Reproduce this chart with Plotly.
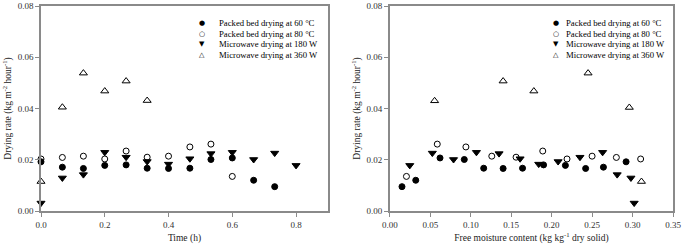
import plotly.graph_objects as go

# ---- Data: left panel (time, h) ----
time_60 = [0.0, 0.067, 0.133, 0.2, 0.267, 0.333, 0.4, 0.467, 0.533, 0.6, 0.667, 0.733]
rate_60 = [0.0192, 0.0171, 0.0166, 0.0178, 0.0180, 0.0167, 0.0166, 0.0167, 0.0201, 0.0207, 0.0120, 0.0095]
time_80 = [0.0, 0.067, 0.133, 0.2, 0.267, 0.333, 0.4, 0.467, 0.533, 0.6]
rate_80 = [0.0203, 0.0209, 0.0214, 0.0203, 0.0234, 0.0210, 0.0214, 0.0250, 0.0261, 0.0135]
time_180 = [0.0, 0.067, 0.133, 0.2, 0.267, 0.333, 0.4, 0.467, 0.533, 0.6, 0.667, 0.733, 0.8]
rate_180 = [0.0031, 0.0129, 0.0142, 0.0229, 0.0210, 0.0193, 0.0183, 0.0204, 0.0224, 0.0229, 0.0201, 0.0226, 0.0178]
time_360 = [0.0, 0.067, 0.133, 0.2, 0.267, 0.333]
rate_360 = [0.0115, 0.0405, 0.0538, 0.0468, 0.0507, 0.0431]

# ---- Data: right panel (free moisture content) ----
mc_60 = [0.015, 0.032, 0.062, 0.092, 0.116, 0.140, 0.164, 0.190, 0.217, 0.242, 0.264, 0.292]
mrate_60 = [0.0095, 0.0120, 0.0207, 0.0201, 0.0167, 0.0166, 0.0167, 0.0180, 0.0178, 0.0166, 0.0171, 0.0192]
mc_80 = [0.0205, 0.0586, 0.094, 0.126, 0.156, 0.189, 0.219, 0.250, 0.280, 0.310]
mrate_80 = [0.0135, 0.0261, 0.0250, 0.0214, 0.0210, 0.0234, 0.0203, 0.0214, 0.0209, 0.0203]
mc_180 = [0.0246, 0.0525, 0.0787, 0.107, 0.135, 0.161, 0.184, 0.208, 0.235, 0.263, 0.281, 0.298, 0.302]
mrate_180 = [0.0178, 0.0226, 0.0201, 0.0229, 0.0224, 0.0204, 0.0183, 0.0193, 0.0210, 0.0229, 0.0142, 0.0129, 0.0031]
mc_360 = [0.0553, 0.140, 0.178, 0.245, 0.296, 0.311]
mrate_360 = [0.0430, 0.0507, 0.0468, 0.0538, 0.0404, 0.0115]

series_names = ["Packed bed drying at 60 \u00b0C", "Packed bed drying at 80 \u00b0C",
                "Microwave drying at 180 W", "Microwave drying at 360 W"]
legend_glyphs = ["\u25cf", "\u25cb", "\u25bc", "\u25b3"]

y_ticks = [0.0, 0.02, 0.04, 0.06, 0.08]
x1_ticks = [0.0, 0.2, 0.4, 0.6, 0.8]
x2_ticks = [0.0, 0.05, 0.10, 0.15, 0.20, 0.25, 0.30, 0.35]

styles = [
    dict(symbol="circle", size=6, color="black", line=dict(color="black", width=1)),
    dict(symbol="circle-open", size=6, color="black", line=dict(color="black", width=1)),
    dict(symbol="triangle-down", size=7, color="black", line=dict(color="black", width=1)),
    dict(symbol="triangle-up-open", size=7, color="black", line=dict(color="black", width=1)),
]

fig = go.Figure()
left = [(time_60, rate_60), (time_80, rate_80), (time_180, rate_180), (time_360, rate_360)]
right = [(mc_60, mrate_60), (mc_80, mrate_80), (mc_180, mrate_180), (mc_360, mrate_360)]
for (x, y), st, nm in zip(left, styles, series_names):
    fig.add_trace(go.Scatter(x=x, y=y, mode="markers", marker=st, name=nm,
                             xaxis="x", yaxis="y", cliponaxis=False, showlegend=False))
for (x, y), st, nm in zip(right, styles, series_names):
    fig.add_trace(go.Scatter(x=x, y=y, mode="markers", marker=st, name=nm,
                             xaxis="x2", yaxis="y2", cliponaxis=False, showlegend=False))

serif = "Liberation Serif, Times New Roman, serif"
axis_common = dict(showline=True, mirror=True, linecolor="#8a8a8a", linewidth=1.5,
                   ticks="outside", ticklen=4, tickcolor="#8a8a8a", showgrid=False,
                   zeroline=False, automargin=False,
                   tickfont=dict(family=serif, size=9, color="#333"))

ytitle = "Drying rate (kg m<sup>-2</sup> hour<sup>-1</sup>)"
fig.update_layout(
    width=685, height=251,
    margin=dict(l=41, r=12, t=6, b=40),
    paper_bgcolor="white", plot_bgcolor="white",
    font=dict(family=serif, size=10, color="#222"),
    xaxis=dict(domain=[0, 0.454], range=[0, 0.9], tickvals=x1_ticks, tickformat=".1f",
               title=dict(text="Time (h)", font=dict(size=9.5), standoff=6), **axis_common),
    yaxis=dict(domain=[0, 1], range=[0, 0.08], tickvals=y_ticks, tickformat=".2f",
               title=dict(text=ytitle, font=dict(size=9.5), standoff=4), **axis_common),
    xaxis2=dict(domain=[0.552, 1], range=[0, 0.35], tickvals=x2_ticks, tickformat=".2f",
                anchor="y2",
                title=dict(text="Free moisture content (kg kg<sup>-1</sup> dry solid)",
                           font=dict(size=9.5), standoff=6), **axis_common),
    yaxis2=dict(domain=[0, 1], range=[0, 0.08], tickvals=y_ticks, tickformat=".2f",
                anchor="x2",
                title=dict(text=ytitle, font=dict(size=9.5), standoff=4), **axis_common),
)

# Legend drawn as text annotations (tight row spacing as in the reference)
plot_top, plot_h, plot_l, plot_w = 6, 205, 41, 632
row_px = [23.3, 34, 44.3, 55]
for glyph_px, text_px in [(202, 217), (556, 564)]:
    for g, name, py in zip(legend_glyphs, series_names, row_px):
        yp = 1 - (py - plot_top) / plot_h
        fig.add_annotation(x=(glyph_px - plot_l) / plot_w, y=yp, xref="paper", yref="paper",
                           text=g, showarrow=False, xanchor="center", yanchor="middle",
                           font=dict(family="DejaVu Sans", size=7, color="black"))
        fig.add_annotation(x=(text_px - plot_l) / plot_w, y=yp, xref="paper", yref="paper",
                           text=name, showarrow=False, xanchor="left", yanchor="middle",
                           font=dict(family=serif, size=8.7, color="black"))

fig.write_html("out.html", config={"displayModeBar": False},
               post_script="document.body.style.margin='0';")
